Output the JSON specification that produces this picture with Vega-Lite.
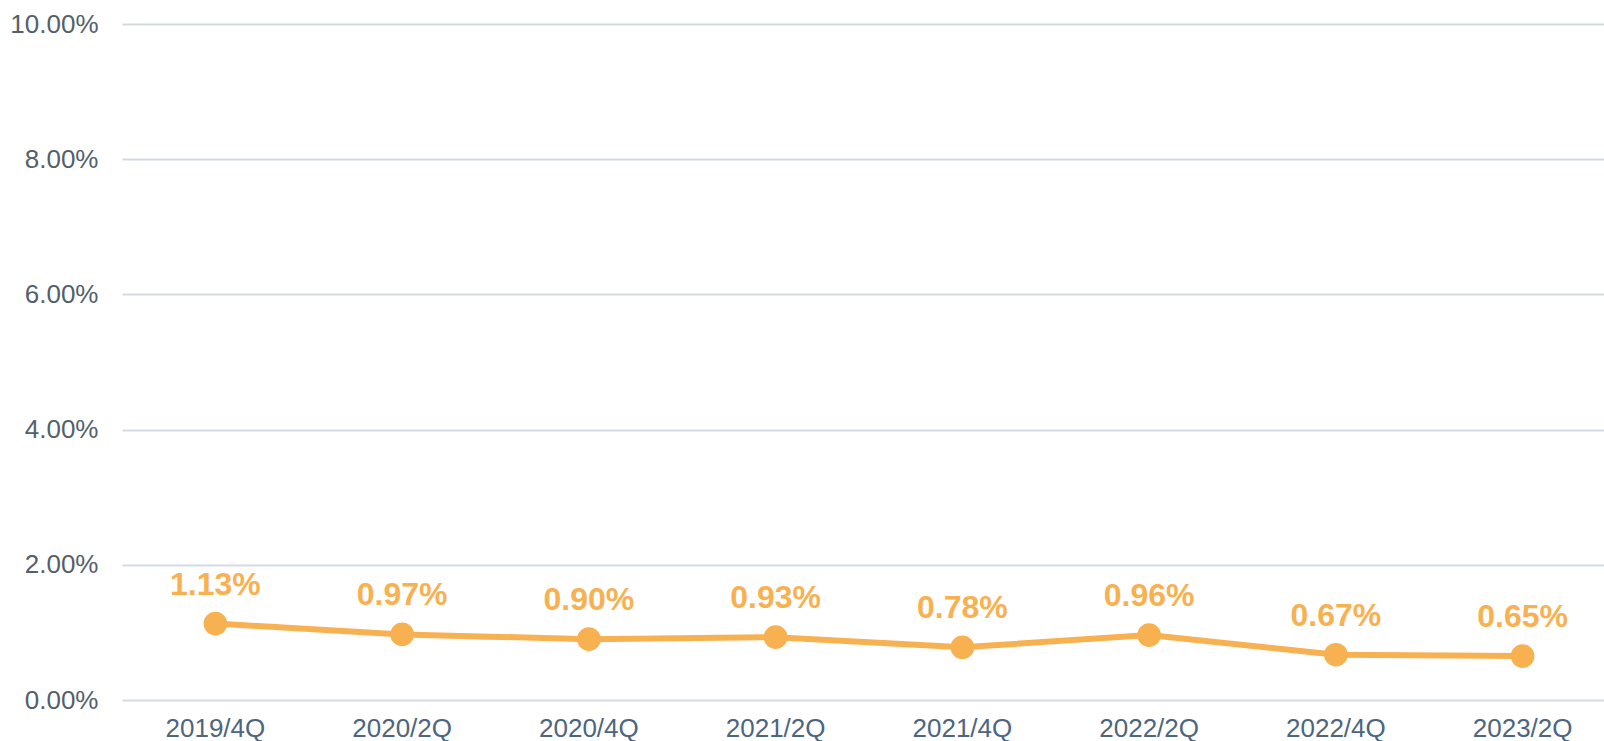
{
  "$schema": "https://vega.github.io/schema/vega-lite/v6.json",
  "autosize": "none",
  "width": 1494,
  "height": 676,
  "padding": {"left": 122, "top": 24, "right": 0, "bottom": 41},
  "background": "white",
  "config": {
    "view": {"stroke": null},
    "font": "Liberation Sans"
  },
  "data": {
    "values": [
      {"q": "2019/4Q", "v": 0.0113},
      {"q": "2020/2Q", "v": 0.0097},
      {"q": "2020/4Q", "v": 0.0090},
      {"q": "2021/2Q", "v": 0.0093},
      {"q": "2021/4Q", "v": 0.0078},
      {"q": "2022/2Q", "v": 0.0096},
      {"q": "2022/4Q", "v": 0.0067},
      {"q": "2023/2Q", "v": 0.0065}
    ]
  },
  "encoding": {
    "x": {
      "field": "q", "type": "ordinal", "sort": null,
      "scale": {"type": "band", "paddingInner": 0, "paddingOuter": 0},
      "axis": {"title": null, "labelAngle": 0, "labelFontSize": 26, "labelColor": "#4d6580", "labelFont": "Liberation Sans", "labelPadding": 15, "ticks": false, "domain": false, "grid": false}
    },
    "y": {
      "field": "v", "type": "quantitative",
      "scale": {"domain": [0, 0.1], "nice": false},
      "axis": {"title": null, "format": ".2%", "values": [0, 0.02, 0.04, 0.06, 0.08, 0.1], "labelFontSize": 26, "labelColor": "#555f6b", "labelPadding": 24, "ticks": false, "domain": false, "grid": true, "gridColor": "#d3dbe5", "gridWidth": 2}
    }
  },
  "layer": [
    {"mark": {"type": "line", "color": "#F8B151", "strokeWidth": 6}},
    {"mark": {"type": "point", "filled": true, "opacity": 1, "color": "#F8B151", "size": 560}},
    {"mark": {"type": "text", "color": "#F8B151", "fontSize": 32, "fontWeight": "bold", "baseline": "alphabetic", "dy": -29},
     "encoding": {"text": {"field": "v", "type": "quantitative", "format": ".2%"}}}
  ]
}
